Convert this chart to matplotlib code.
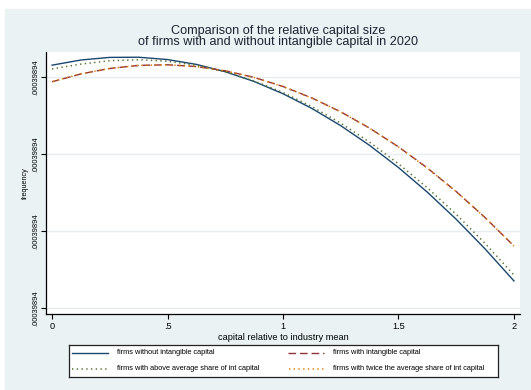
import matplotlib.pyplot as plt
from matplotlib.patches import Rectangle

plt.rcParams['font.family'] = ['Liberation Sans', 'DejaVu Sans']

# relative capital grid and the four density curves (in tick units)
capital_rel = [0, 0.125, 0.25, 0.375, 0.5, 0.625, 0.75, 0.875, 1.0,
               1.125, 1.25, 1.375, 1.5, 1.625, 1.75, 1.875, 2.0]
no_intangible = [3.154, 3.221, 3.255, 3.257, 3.227, 3.164, 3.069, 2.942, 2.783,
                 2.592, 2.368, 2.112, 1.824, 1.504, 1.152, 0.767, 0.351]
with_intangible = [2.938, 3.040, 3.111, 3.151, 3.159, 3.136, 3.081, 2.995, 2.877,
                   2.728, 2.548, 2.336, 2.093, 1.818, 1.512, 1.174, 0.805]
above_avg_share = [3.105, 3.168, 3.212, 3.225, 3.205, 3.152, 3.067, 2.949, 2.799,
                   2.616, 2.401, 2.154, 1.873, 1.561, 1.216, 0.838, 0.428]
twice_avg_share = [2.940, 3.041, 3.112, 3.151, 3.159, 3.136, 3.080, 2.994, 2.876,
                   2.727, 2.547, 2.335, 2.092, 1.817, 1.511, 1.173, 0.804]

series_labels = ['firms without intangible capital',
                 'firms with intangible capital',
                 'firms with above average share of int capital',
                 'firms with twice the average share of int capital']

x_ticks = [0, 0.5, 1, 1.5, 2]
x_tick_labels = ['0', '.5', '1', '1.5', '2']
y_ticks = [0, 1, 2, 3]
y_tick_labels = ['.00039894', '.00039894', '.00039894', '.00039894']

W, H = 531, 390
fig = plt.figure(figsize=(W / 100, H / 100), dpi=100)


def fig_box(x0, y0, x1, y1):
    # pixel box measured from the top-left corner -> figure fraction
    return [x0 / W, 1 - y1 / H, (x1 - x0) / W, (y1 - y0) / H]


# graph region background
fig.patches.append(Rectangle((5 / W, 0), 1 - 5 / W, 1 - 9 / H,
                             transform=fig.transFigure, color='#EAF2F3', zorder=-5))

styles = [
    dict(color='#1A476F', lw=1.0, ls='-'),
    dict(color='#90353B', lw=1.0, ls=(0, (5.5, 2.8))),
    dict(color='#55752F', lw=1.1, ls=(0, (0.9, 2.2))),
    dict(color='#E37E00', lw=1.1, ls=(2.5, (0.9, 2.2))),
]
curves = [no_intangible, with_intangible, above_avg_share, twice_avg_share]

ax = fig.add_axes(fig_box(46, 52, 520, 314))
ax.set_facecolor('white')
for ys, st in zip(curves, styles):
    ax.plot(capital_rel, ys, **st)

ax.set_xlim(-0.026, 2.026)
ax.set_ylim(-0.078, 3.325)
ax.set_xticks(x_ticks, x_tick_labels)
ax.set_yticks(y_ticks, y_tick_labels)
ax.grid(axis='y', color='#E6EEF0', lw=1.0)
ax.set_axisbelow(True)
for s in ['top', 'right']:
    ax.spines[s].set_visible(False)
for s in ['left', 'bottom']:
    ax.spines[s].set_color('black')
    ax.spines[s].set_linewidth(0.9)
ax.tick_params(axis='both', direction='out', length=3.5, width=0.8, color='black')
ax.tick_params(axis='x', labelsize=6.6, pad=2)
ax.tick_params(axis='y', labelsize=5.4, pad=1.5)
for lab in ax.get_yticklabels():
    lab.set_family(['Liberation Sans Narrow', 'Liberation Sans'])
    lab.set_rotation(90)
    lab.set_va('center')
ax.set_xlabel('capital relative to industry mean', fontsize=6.7, labelpad=2)
ax.set_ylabel('frequency', fontsize=5.2, labelpad=2.5,
              family=['Liberation Sans Narrow', 'Liberation Sans'])

fig.text(278 / W, 1 - 34 / H, 'Comparison of the relative capital size',
         ha='center', va='baseline', fontsize=9.1, color='#1c2433')
fig.text(278 / W, 1 - 45.3 / H, 'of firms with and without intangible capital in 2020',
         ha='center', va='baseline', fontsize=9.1, color='#1c2433')

# legend box
lg = fig.add_axes(fig_box(69, 345, 498, 377))
lg.set_xlim(69, 498)
lg.set_ylim(377, 345)
lg.set_xticks([])
lg.set_yticks([])
for s in lg.spines.values():
    s.set_color('#222222')
    s.set_linewidth(0.9)
slots = [(72, 353), (288, 353), (72, 369), (288, 369)]
for (x0, y0), st, label in zip(slots, styles, series_labels):
    lg.plot([x0, x0 + 36], [y0, y0], **st)
    lg.text(x0 + 45, y0, label, fontsize=5.3, va='center', ha='left')

fig.savefig('out.png', dpi=100)
